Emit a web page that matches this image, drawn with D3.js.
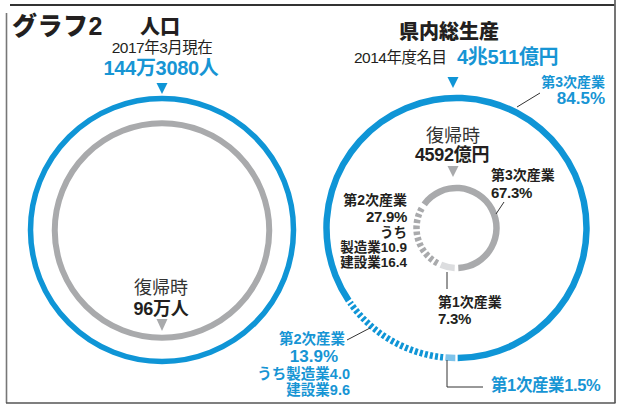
<!DOCTYPE html>
<html><head><meta charset="utf-8">
<script src="https://cdn.jsdelivr.net/npm/d3@7"></script>
<style>
html,body{margin:0;padding:0;background:#fff;}
text{font-family:"Liberation Sans","Noto Sans CJK JP",sans-serif;}
</style></head>
<body><svg id="c" width="621" height="405"></svg>
<script>
// ---- data ----
const popTotal = 1443080;      // 2017年3月現在
const popRevert = 960000;      // 復帰時
const sectorNames = ["第1次産業", "第2次産業", "第3次産業"];
const gdpNowShares = [1.5, 13.9, 84.5];     // 2014年度 %
const gdpRevertShares = [7.3, 27.9, 67.3];  // 復帰時 %
const gdpNowTotal = 40511;   // 億円
const gdpRevertTotal = 4592; // 億円

const BLUE = "#0f95d6", LBLUE = "#7ec3ea", GRAY = "#a9aaac", LGRAY = "#dcdddf", INK = "#231f20", BTXT = "#1795d4";

const svg = d3.select("#c");

// frame
svg.append("line").attr("x1",10).attr("x2",615).attr("y1",5).attr("y2",5).attr("stroke","#333").attr("stroke-width",2);
svg.append("line").attr("x1",6.5).attr("x2",6.5).attr("y1",13).attr("y2",403).attr("stroke","#777").attr("stroke-width",1.6);
svg.append("line").attr("x1",615).attr("x2",615).attr("y1",0).attr("y2",403).attr("stroke","#666").attr("stroke-width",1.8);
svg.append("line").attr("x1",6).attr("x2",615.5).attr("y1",403).attr("y2",403).attr("stroke","#555").attr("stroke-width",1.6);

function txt(x,y,s,o){
  o=o||{};
  return svg.append("text").attr("x",x).attr("y",y).text(s)
    .attr("font-size",o.size||14).attr("font-weight",o.weight||"bold")
    .attr("fill",o.fill||INK).attr("text-anchor",o.anchor||"start")
    .attr("letter-spacing",o.ls||0);
}
function block(x,lines,o){
  o=o||{};
  const t = svg.append("text").attr("font-weight","bold").attr("fill",o.fill||INK)
    .attr("text-anchor",o.anchor||"start");
  lines.forEach(l=>{
    t.append("tspan").attr("x",l.x!=null?l.x:x).attr("y",l.y).attr("font-size",l.size||14)
      .attr("letter-spacing",l.ls||0).text(l.s);
  });
  return t;
}
function tri(x,y,w,h,fill){
  svg.append("path").attr("d",`M${x-w/2},${y}L${x+w/2},${y}L${x},${y+h}Z`).attr("fill",fill);
}

// titles
txt(12,35,"グラフ2",{size:25,weight:900,ls:0.5});
txt(160,34,"人口",{size:20,anchor:"middle",weight:900});
txt(162,53,"2017年3月現在",{size:15.5,weight:"normal",anchor:"middle",ls:-0.5});
txt(161,75,"144万3080人",{size:20,fill:BTXT,anchor:"middle",ls:-0.3});
txt(449,39,"県内総生産",{size:20,anchor:"middle",weight:900});
txt(354,63,"2014年度名目",{size:15.5,weight:"normal",ls:-0.5});
txt(457,64,"4兆511億円",{size:20,fill:BTXT,ls:-0.3});

// ---- left: population rings ----
const rPop = d3.scaleSqrt().domain([0, popTotal]).range([0, 131.5]);
const L = {x:162, y:230};
svg.append("circle").attr("cx",L.x).attr("cy",L.y).attr("r",rPop(popTotal)).attr("fill","none").attr("stroke",BLUE).attr("stroke-width",5.5);
svg.append("circle").attr("cx",L.x).attr("cy",L.y+0.5).attr("r",rPop(popRevert)).attr("fill","none").attr("stroke",GRAY).attr("stroke-width",6);
tri(162,83,11,11,BLUE);
tri(162,319,11,12,GRAY);
txt(161,294,"復帰時",{size:18,weight:"normal",fill:"#333",anchor:"middle"});
txt(161,315,"96万人",{size:18,anchor:"middle",ls:-0.3});

// ---- right: GDP rings ----
const R = {x:456.5, y:228};
const rOuter = 130, rInner = 40, w = 6.5;
const pie = d3.pie().sort(null).startAngle(Math.PI).endAngle(3*Math.PI);
const g = svg.append("g").attr("transform",`translate(${R.x},${R.y})`);

function ring(shares, r, pad, colors, hatch, dash){
  const arcs = pie(shares);
  arcs.forEach((a,i)=>{
    const a0 = a.startAngle + pad/2, a1 = a.endAngle - pad/2;
    if(hatch[i]){
      const p = d3.path();
      p.arc(0,0,r,a0-Math.PI/2,a1-Math.PI/2);
      g.append("path").attr("d",p.toString()).attr("fill","none")
        .attr("stroke",colors[i]).attr("stroke-width",w).attr("stroke-dasharray",dash);
    } else {
      g.append("path").attr("d",d3.arc().innerRadius(r-w/2).outerRadius(r+w/2).startAngle(a0).endAngle(a1)())
        .attr("fill",colors[i]);
    }
  });
}
ring(gdpNowShares, rOuter, 0.018, [LBLUE, BLUE, BLUE], [false,true,false], "3 2.2");
ring(gdpRevertShares, rInner, 0.09, [LGRAY, GRAY, GRAY], [false,true,false], "3.6 2.4");

tri(453,77,11,11,BLUE);
tri(453,166,11,11,GRAY);
txt(453,142,"復帰時",{size:18,weight:"normal",fill:"#333",anchor:"middle"});
txt(452,161,"4592億円",{size:18,anchor:"middle",ls:-0.3});

// leader lines
function ln(pts,col){
  svg.append("path").attr("d",d3.line()(pts)).attr("fill","none").attr("stroke",col||"#333").attr("stroke-width",1);
}
ln([[504,202],[496,214]]);
ln([[447,272],[447,289]]);
ln([[540,93],[517,107]]);
ln([[347,340],[370,328]]);
ln([[447,360],[447,387],[483,387]]);

// inner labels
block(491,[{s:sectorNames[2],y:180,size:14},{s:gdpRevertShares[2].toFixed(1)+"%",y:198,size:15,ls:-0.3}]);
block(407,[
  {s:sectorNames[1],y:205,size:14},
  {s:gdpRevertShares[1].toFixed(1)+"%",y:222,size:15,ls:-0.3},
  {s:"うち",y:237,size:13.5},
  {s:"製造業10.9",y:252,size:13.5,ls:0},
  {s:"建設業16.4",y:267,size:13.5,ls:0}
],{anchor:"end"});
block(438,[{s:sectorNames[0],y:307,size:14},{s:gdpRevertShares[0].toFixed(1)+"%",y:324,size:15,ls:-0.3}]);

// outer labels (blue)
block(605,[{s:sectorNames[2],y:87,size:14},{s:gdpNowShares[2].toFixed(1)+"%",y:104,size:17}],{fill:BTXT,anchor:"end"});
block(350,[
  {s:sectorNames[1],y:344,size:14.5,x:345},
  {s:gdpNowShares[1].toFixed(1)+"%",y:362,size:17,x:338},
  {s:"うち製造業4.0",y:379,size:14.5,ls:0},
  {s:"建設業9.6",y:395,size:14.5,ls:0}
],{fill:BTXT,anchor:"end"});
txt(491,391,sectorNames[0]+gdpNowShares[0].toFixed(1)+"%",{size:16.5,fill:BTXT,ls:-0.4});
</script></body></html>
